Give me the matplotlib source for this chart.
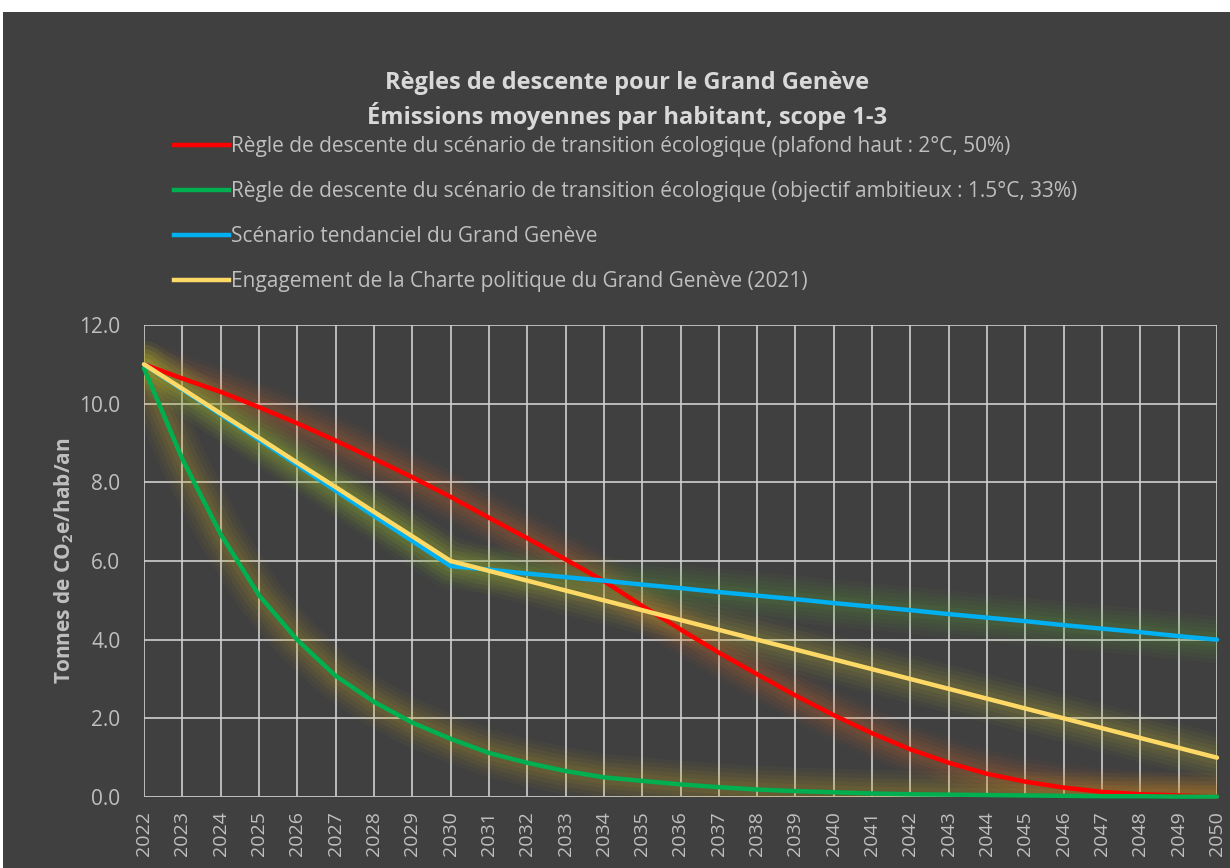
import matplotlib
matplotlib.use("Agg")
import matplotlib.pyplot as plt
from matplotlib.patches import Rectangle
from matplotlib.lines import Line2D

years = list(range(2022, 2051))
regle_2c = [11.0, 10.64, 10.3, 9.91, 9.5, 9.06, 8.6, 8.13, 7.63, 7.1, 6.58, 6.04, 5.49,
            4.86, 4.26, 3.67, 3.12, 2.58, 2.08, 1.62, 1.21, 0.87, 0.59, 0.39, 0.24, 0.13,
            0.07, 0.04, 0.01]
regle_15c = [10.9, 8.59, 6.68, 5.13, 3.99, 3.08, 2.42, 1.89, 1.48, 1.12, 0.87, 0.66, 0.5,
             0.41, 0.32, 0.25, 0.19, 0.15, 0.12, 0.09, 0.07, 0.06, 0.05, 0.04, 0.03, 0.02,
             0.02, 0.01, 0.01]
tendanciel = [11.0, 10.36, 9.72, 9.08, 8.44, 7.79, 7.15, 6.51, 5.87, 5.78, 5.68, 5.59, 5.5,
              5.4, 5.31, 5.21, 5.12, 5.03, 4.93, 4.84, 4.75, 4.65, 4.56, 4.47, 4.37, 4.28,
              4.19, 4.09, 4.0]
charte = [11.0, 10.38, 9.75, 9.13, 8.5, 7.88, 7.25, 6.63, 6.0, 5.75, 5.5, 5.25, 5.0,
          4.75, 4.5, 4.25, 4.0, 3.75, 3.5, 3.25, 3.0, 2.75, 2.5, 2.25, 2.0, 1.75, 1.5,
          1.25, 1.0]

labels = [
    "Règle de descente du scénario de transition écologique (plafond haut : 2°C, 50%)",
    "Règle de descente du scénario de transition écologique (objectif ambitieux : 1.5°C, 33%)",
    "Scénario tendanciel du Grand Genève",
    "Engagement de la Charte politique du Grand Genève (2021)",
]
title_lines = ["Règles de descente pour le Grand Genève",
               "Émissions moyennes par habitant, scope 1-3"]
ylabel = "Tonnes de CO$_\\mathbf{2}$e/hab/an"

colors = ["#FF0000", "#00B050", "#00B0F0", "#FFD966"]
glows = ["#E8702A", "#D4B020", "#5FAE3A", "#C8C030"]
series = [regle_2c, regle_15c, tendanciel, charte]

plt.rcParams['font.family'] = ['Open Sans', 'DejaVu Sans']
plt.rcParams['mathtext.fontset'] = 'custom'
plt.rcParams['mathtext.rm'] = 'Open Sans'
plt.rcParams['mathtext.bf'] = 'Open Sans:bold'

TXT = "#BFBFBF"
TITLE = "#D9D9D9"
BG = "#404040"

fig = plt.figure(figsize=(12.3, 8.68), dpi=100, facecolor="white")
fig.patches.append(Rectangle((3 / 1230, 0), 1 - 3 / 1230, 1 - 12 / 868,
                             transform=fig.transFigure, facecolor=BG, edgecolor="none", zorder=-10))

ax = fig.add_axes([144 / 1230, 1 - 797 / 868, (1217 - 144) / 1230, (797 - 325) / 868])
ax.set_facecolor(BG)
ax.set_xlim(2022, 2050)
ax.set_ylim(0, 12)
ax.set_xticks(years)
ax.set_xticklabels([str(y) for y in years], rotation=90)
ax.set_yticks([0, 2, 4, 6, 8, 10, 12])
ax.set_yticklabels(["0.0", "2.0", "4.0", "6.0", "8.0", "10.0", "12.0"])
ax.tick_params(axis='x', colors=TXT, labelsize=14, length=0, pad=10)
ax.tick_params(axis='y', colors=TXT, labelsize=15, length=0, pad=17)
ax.grid(True, color="#D0D0D0", linewidth=1.2, zorder=1)
ax.set_axisbelow(True)
for s in ax.spines.values():
    s.set_visible(False)
ax.axhline(0, color="#BFBFBF", linewidth=1.2, zorder=1)

for i, (vals, c, g) in enumerate(zip(series, colors, glows)):
    for w, a in [(34, 0.04), (28, 0.05), (22, 0.06), (16, 0.07), (10, 0.08)]:
        ax.plot(years, vals, color=g, linewidth=w, alpha=a, solid_capstyle='round',
                solid_joinstyle='round', zorder=2 + i * 0.1)
for i, (vals, c) in enumerate(zip(series, colors)):
    ax.plot(years, vals, color=c, linewidth=3.2, solid_capstyle='round',
            solid_joinstyle='round', zorder=5 + i, clip_on=False)

ax.set_ylabel(ylabel, color=TXT, fontsize=15, fontweight='bold', labelpad=2)

fig.text(627 / 1230, 1 - 83 / 868, title_lines[0], ha='center', va='center', color=TITLE,
         fontsize=17, fontweight='bold')
fig.text(627 / 1230, 1 - 116 / 868, title_lines[1], ha='center', va='center', color=TITLE,
         fontsize=17, fontweight='bold')

handles = [Line2D([0], [0], color=c, linewidth=3.2) for c in colors]
leg = fig.legend(handles, labels, loc='upper left', bbox_to_anchor=(166 / 1230, 1 - 128 / 868),
                 frameon=False, fontsize=15, handlelength=2.6, handletextpad=0.1,
                 labelspacing=1.15, borderaxespad=0)
for t in leg.get_texts():
    t.set_color(TXT)

fig.savefig("out.png", dpi=100, facecolor=fig.get_facecolor())
